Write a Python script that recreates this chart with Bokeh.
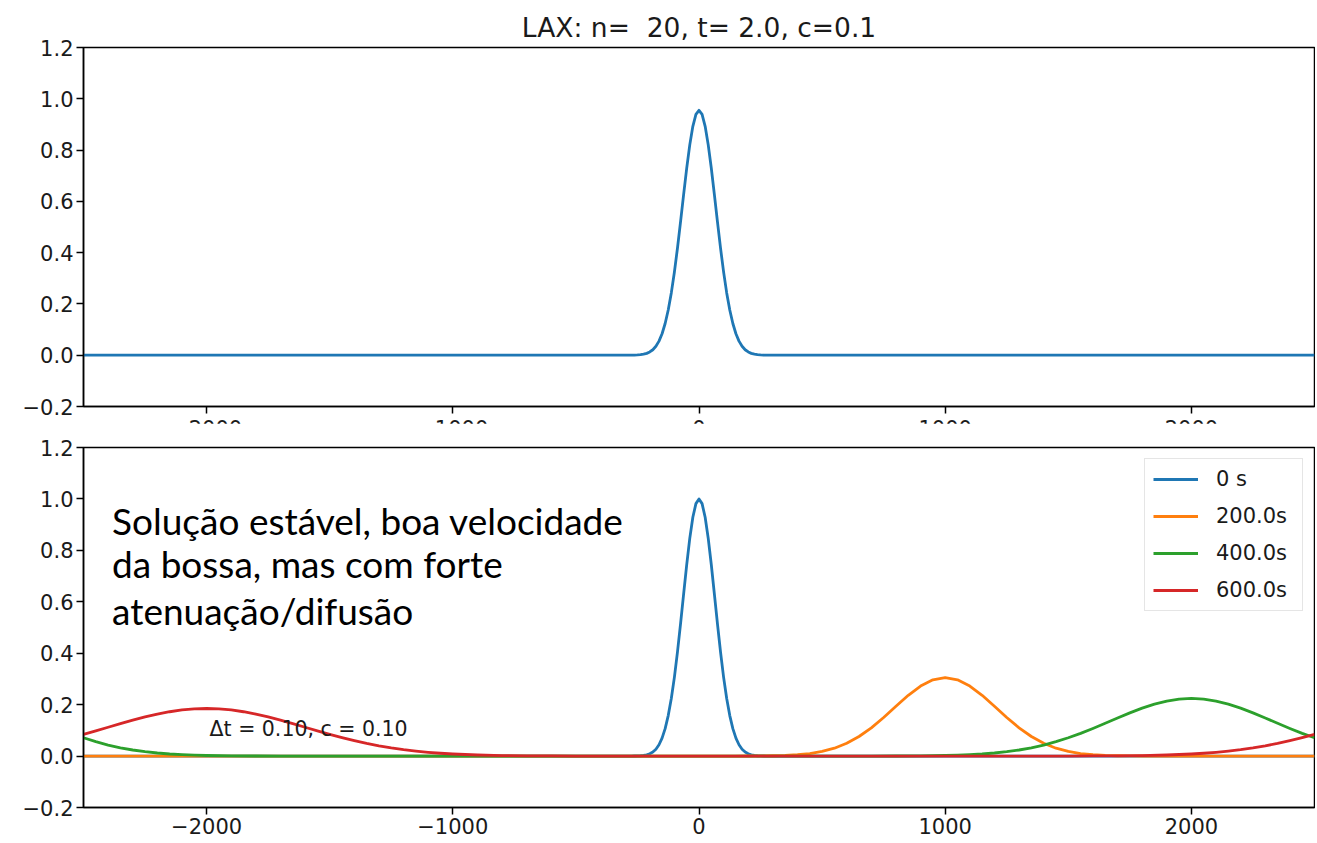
from bokeh.plotting import figure
from bokeh.layouts import column
from bokeh.models import FixedTicker, Range1d, CustomJSTickFormatter
from bokeh.core.properties import value
from bokeh.embed import file_html
from bokeh.resources import INLINE

# ---------------- data ----------------
TITLE = "LAX: n=  20, t= 2.0, c=0.1"
NOTE_LINES = ["Solução estável, boa velocidade", "da bossa, mas com forte", "atenuação/difusão"]
PARAM_LABEL = "Δt = 0.10, c = 0.10"
LEGEND_LABELS = ["0 s", "200.0s", "400.0s", "600.0s"]
X_TICKS = [-2000, -1000, 0, 1000, 2000]
Y_TICKS = [-0.2, 0.0, 0.2, 0.4, 0.6, 0.8, 1.0, 1.2]
X_LIMITS = (-2500, 2500)
Y_LIMITS = (-0.2, 1.2)

# x grid used for the narrow pulse (both panels)
pulse_x = [-2500, -275, -262.5, -250, -237.5, -225, -212.5, -200, -187.5, -175, -162.5, -150,
           -137.5, -125, -112.5, -100, -87.5, -75, -62.5, -50, -37.5, -25, -12.5, 0,
           12.5, 25, 37.5, 50, 62.5, 75, 87.5, 100, 112.5, 125, 137.5, 150, 162.5, 175, 187.5,
           200, 212.5, 225, 237.5, 250, 262.5, 275, 2500]

# top panel: state at t = 2.0
top_y = [0, 0, 0.0006, 0.0011, 0.0021, 0.004, 0.0072, 0.0126, 0.0213, 0.0348, 0.0549, 0.0838,
         0.1236, 0.1763, 0.243, 0.3238, 0.4173, 0.5198, 0.626, 0.7289, 0.8203, 0.8925, 0.939, 0.955,
         0.939, 0.8925, 0.8203, 0.7289, 0.626, 0.5198, 0.4173, 0.3238, 0.243, 0.1763, 0.1236,
         0.0838, 0.0549, 0.0348, 0.0213, 0.0126, 0.0072, 0.004, 0.0021, 0.0011, 0.0006, 0, 0]

# bottom panel: 0 s
s0_y = [0, 0, 0.0003, 0.0006, 0.0013, 0.0025, 0.0048, 0.0088, 0.0156, 0.0267, 0.0439, 0.0698,
        0.1067, 0.1574, 0.2236, 0.3062, 0.4041, 0.5139, 0.6298, 0.7439, 0.8467, 0.9287, 0.9817, 1.0,
        0.9817, 0.9287, 0.8467, 0.7439, 0.6298, 0.5139, 0.4041, 0.3062, 0.2236, 0.1574, 0.1067,
        0.0698, 0.0439, 0.0267, 0.0156, 0.0088, 0.0048, 0.0025, 0.0013, 0.0006, 0.0003, 0, 0]

# 200 s
s200_x = [-2500, 150, 200, 250, 300, 350, 400, 450, 500, 550, 600, 650, 700, 750, 800, 850, 900, 950,
          1000, 1050, 1100, 1150, 1200, 1250, 1300, 1350, 1400, 1450, 1500, 1550, 1600, 1650, 1700,
          1750, 1800, 1850, 2500]
s200_y = [0, 0, 0.0002, 0.0005, 0.0012, 0.0025, 0.0051, 0.0099, 0.0179, 0.0307, 0.0497, 0.0761,
          0.1099, 0.1502, 0.1938, 0.2363, 0.2723, 0.2965, 0.305, 0.2965, 0.2723, 0.2363, 0.1938,
          0.1502, 0.1099, 0.0761, 0.0497, 0.0307, 0.0179, 0.0099, 0.0051, 0.0025, 0.0012, 0.0005,
          0.0002, 0, 0]

# 400 s
s400_x = [-2500, -2450, -2400, -2350, -2300, -2250, -2200, -2150, -2100, -2050, -2000, -1900,
          -1800, -1700, 700, 800, 900, 1000, 1050, 1100, 1150, 1200, 1250, 1300, 1350, 1400, 1450,
          1500, 1550, 1600, 1650, 1700, 1750, 1800, 1850, 1900, 1950, 2000, 2050, 2100, 2150, 2200,
          2250, 2300, 2350, 2400, 2450, 2500]
s400_y = [0.0711, 0.0559, 0.0429, 0.0322, 0.0236, 0.0169, 0.0119, 0.0081, 0.0054, 0.0036, 0.0023,
          0.0009, 0.0003, 0, 0, 0.0003, 0.0009, 0.0023, 0.0036, 0.0054, 0.0081, 0.0119, 0.0169,
          0.0236, 0.0322, 0.0429, 0.0559, 0.0711, 0.0884, 0.1075, 0.1276, 0.1482, 0.1681, 0.1864,
          0.2020, 0.2139, 0.2214, 0.224, 0.2214, 0.2139, 0.2020, 0.1864, 0.1681, 0.1482, 0.1276,
          0.1075, 0.0884, 0.0711]

# 600 s
s600_x = [-2500, -2450, -2400, -2350, -2300, -2250, -2200, -2150, -2100, -2050, -2000, -1950,
          -1900, -1850, -1800, -1750, -1700, -1650, -1600, -1550, -1500, -1450, -1400, -1350,
          -1300, -1250, -1200, -1150, -1100, -1050, -1000, -900, -800, -700, -600, -500,
          1500, 1600, 1700, 1800, 1900, 2000, 2050, 2100, 2150, 2200, 2250, 2300, 2350, 2400,
          2450, 2500]
s600_y = [0.0847, 0.0983, 0.1122, 0.1262, 0.1396, 0.1522, 0.1633, 0.1724, 0.1793, 0.1836, 0.185,
          0.1836, 0.1793, 0.1724, 0.1633, 0.1522, 0.1396, 0.1262, 0.1122, 0.0983, 0.0847, 0.0719,
          0.0601, 0.0494, 0.0400, 0.0319, 0.0250, 0.0194, 0.0147, 0.0110, 0.0081, 0.0042, 0.0021,
          0.0009, 0.0004, 0,
          0, 0.0004, 0.0009, 0.0021, 0.0042, 0.0081, 0.0110, 0.0147, 0.0194, 0.0250, 0.0319,
          0.0400, 0.0494, 0.0601, 0.0719, 0.0847]

COLORS = ["#1f77b4", "#ff7f0e", "#2ca02c", "#d62728"]

# annotation anchors (data coordinates)
NOTE_X = -2384
NOTE_Y = [0.915, 0.748, 0.565]
PARAM_X = -1988
PARAM_Y = 0.106

TICK_FONT = "DejaVu Sans"
TEXT_COLOR = "#1a1a1a"
LINE_W = 2.8


def style(p, x_standoff=3):
    p.grid.visible = False
    p.outline_line_color = "black"
    p.outline_line_width = 1.5
    p.outline_line_alpha = 1.0
    p.background_fill_color = "white"
    p.border_fill_color = "white"
    p.xaxis.ticker = FixedTicker(ticks=X_TICKS, minor_ticks=[])
    p.yaxis.ticker = FixedTicker(ticks=Y_TICKS, minor_ticks=[])
    p.xaxis.formatter = CustomJSTickFormatter(code="return tick.toFixed(0).replace('-', '\u2212');")
    p.yaxis.formatter = CustomJSTickFormatter(code="return tick.toFixed(1).replace('-', '\u2212');")
    for ax in (p.xaxis, p.yaxis):
        ax.axis_line_color = "black"
        ax.axis_line_width = 1.5
        ax.major_tick_line_color = "black"
        ax.major_tick_line_width = 1.5
        ax.major_tick_out = 7
        ax.major_tick_in = 0
        ax.minor_tick_out = 0
        ax.minor_tick_in = 0
        ax.major_label_text_font = TICK_FONT
        ax.major_label_text_font_size = "21px"
        ax.major_label_text_color = TEXT_COLOR
        ax.major_label_standoff = 3
    p.xaxis.major_label_standoff = x_standoff


# ---------------- top panel ----------------
top = figure(width=1315, height=444, x_range=Range1d(*X_LIMITS), y_range=Range1d(*Y_LIMITS),
             output_backend="svg", toolbar_location=None,
             min_border_left=83, min_border_right=1, min_border_top=47, min_border_bottom=38)
top.title.text = TITLE.replace("  ", "\u00a0 ")
top.title.align = "center"
top.title.text_font = TICK_FONT
top.title.text_font_size = "26.5px"
top.title.text_font_style = "normal"
top.title.text_color = TEXT_COLOR
top.title.standoff = 9
style(top, x_standoff=6)
top.line(pulse_x, top_y, line_color=COLORS[0], line_width=LINE_W, line_join="round")

# ---------------- bottom panel (overlaps the clipped tick labels above) ----------------
bot = figure(width=1315, height=420, x_range=Range1d(*X_LIMITS), y_range=Range1d(*Y_LIMITS),
             output_backend="svg", toolbar_location=None,
             min_border_left=83, min_border_right=1, min_border_top=24, min_border_bottom=36,
             margin=(-21, 0, 0, 0))
style(bot)
series = [(pulse_x, s0_y), (s200_x, s200_y), (s400_x, s400_y), (s600_x, s600_y)]
for (xs, ys), col, lab in zip(series, COLORS, LEGEND_LABELS):
    bot.line(xs, ys, line_color=col, line_width=LINE_W, line_join="round", legend_label=lab)

bot.text(x=[NOTE_X] * len(NOTE_LINES), y=NOTE_Y, text=NOTE_LINES,
         text_font=value("Lato"), text_font_size="37px", text_color="black",
         text_align="left", text_baseline="alphabetic")
bot.text(x=[PARAM_X], y=[PARAM_Y], text=[PARAM_LABEL],
         text_font=value(TICK_FONT), text_font_size="20.5px", text_color=TEXT_COLOR,
         text_align="left", text_baseline="alphabetic")

lg = bot.legend[0]
lg.location = "top_right"
lg.margin = 11
lg.padding = 8
lg.spacing = 13
lg.glyph_width = 45
lg.glyph_height = 22
lg.label_height = 22
lg.label_width = 78
lg.label_standoff = 18
lg.label_text_font = TICK_FONT
lg.label_text_font_size = "21px"
lg.label_text_color = TEXT_COLOR
lg.border_line_color = "#cccccc"
lg.border_line_width = 1
lg.background_fill_alpha = 0.8

layout = column(top, bot, spacing=0)
open("out.html", "w").write(file_html(layout, INLINE))
